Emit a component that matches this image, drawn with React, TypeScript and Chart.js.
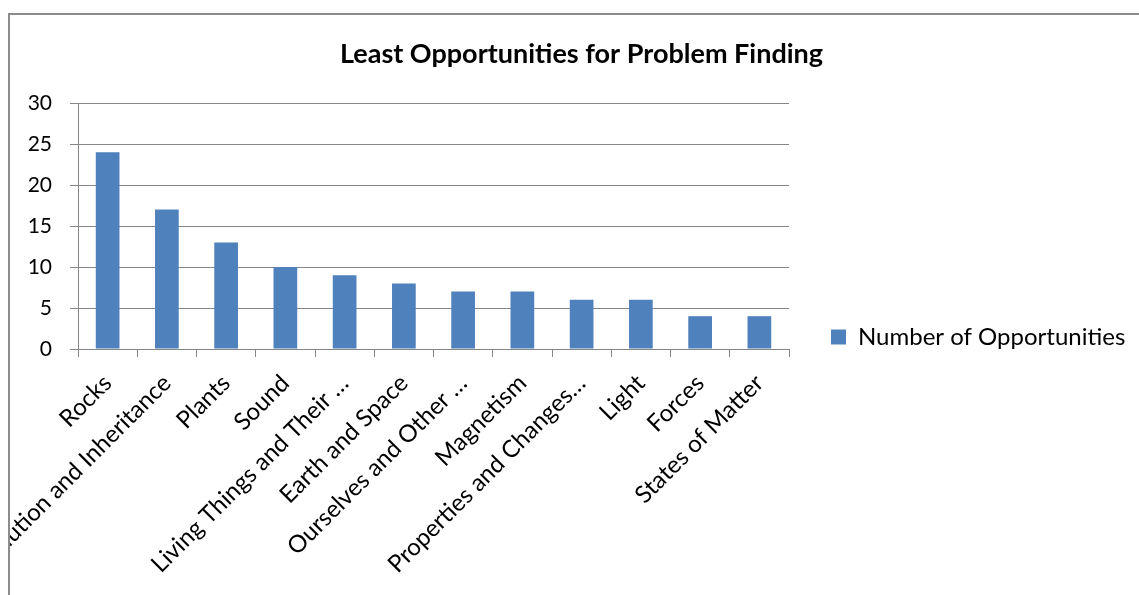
import React, { useEffect, useRef } from 'react';
import { Chart, registerables } from 'chart.js';

Chart.register(...registerables);

const chartTitle = 'Least Opportunities for Problem Finding';
const seriesLabel = 'Number of Opportunities';
const categories = [
  'Rocks',
  'Evolution and Inheritance',
  'Plants',
  'Sound',
  'Living Things and Their …',
  'Earth and Space',
  'Ourselves and Other …',
  'Magnetism',
  'Properties and Changes…',
  'Light',
  'Forces',
  'States of Matter',
];
const opportunities = [24, 17, 13, 10, 9, 8, 7, 7, 6, 6, 4, 4];
const yMin = 0;
const yMax = 30;
const yStep = 5;

const FONT = 'Lato';
const GRID = '#868686';
const BAR = '#4F81BD';

// layout (canvas pixels; canvas sits at page x=10, y=15)
const CANVAS_W = 1143;
const CANVAS_H = 580;
const Y_AXIS_W = 68;
const GAP_W = 42;
const LEGEND_LEFT = 821; // canvas x of legend box
const LEGEND_FONT = 24;
const LEGEND_BOX = 15;

export default function App() {
  const ref = useRef<HTMLCanvasElement>(null);

  useEffect(() => {
    if (!ref.current) return;
    const measure = document.createElement('canvas').getContext('2d')!;
    measure.font = `${LEGEND_FONT}px ${FONT}`;
    const tw = measure.measureText(seriesLabel).width;
    const legendW = LEGEND_BOX + LEGEND_FONT / 2 + tw + 10;
    const outerW = Math.max(0, CANVAS_W - LEGEND_LEFT - legendW);

    const chart = new Chart(ref.current, {
      type: 'bar',
      data: {
        labels: categories,
        datasets: [
          {
            label: seriesLabel,
            data: opportunities,
            backgroundColor: BAR,
            borderWidth: 0,
            barPercentage: 0.4,
            categoryPercentage: 1,
          },
        ],
      },
      options: {
        responsive: false,
        animation: false,
        devicePixelRatio: 1,
        layout: { padding: 0 },
        plugins: {
          title: {
            display: true,
            text: chartTitle,
            color: '#000',
            font: { family: FONT, size: 27, weight: 'bold', lineHeight: 1.2 },
            padding: { top: 23, bottom: 32.6 },
          },
          legend: {
            position: 'right',
            align: 'end',
            fullSize: false,
            maxWidth: 2000,
            labels: {
              boxWidth: LEGEND_BOX,
              boxHeight: LEGEND_BOX,
              padding: 0,
              color: '#000',
              font: { family: FONT, size: LEGEND_FONT },
            },
          },
          tooltip: { enabled: false },
        },
        scales: {
          x: {
            grid: { offset: true, drawOnChartArea: false, color: GRID, tickLength: 8 },
            border: { color: GRID },
            ticks: {
              autoSkip: false,
              minRotation: 45,
              maxRotation: 45,
              color: '#000',
              padding: 12,
              font: { family: FONT, size: 24 },
            },
            afterFit: (s: any) => {
              s.height = 246;
              s.paddingLeft = 0;
              s.paddingRight = 0;
            },
          },
          y: {
            min: yMin,
            max: yMax,
            ticks: {
              stepSize: yStep,
              color: '#000',
              padding: 18,
              font: { family: FONT, size: 21 },
            },
            grid: { color: GRID, tickLength: 8 },
            border: { color: GRID },
            afterFit: (s: any) => {
              s.width = Y_AXIS_W;
            },
          },
          gap: {
            type: 'linear',
            position: 'right',
            display: false,
            weight: 0,
            afterFit: (s: any) => {
              s.width = GAP_W;
            },
          },
          outer: {
            type: 'linear',
            position: 'right',
            display: false,
            weight: 2000,
            afterFit: (s: any) => {
              s.width = outerW;
            },
          },
        },
      } as any,
    });
    return () => chart.destroy();
  }, []);

  return (
    <div
      style={{
        position: 'absolute',
        left: 8,
        top: 13,
        width: 1131,
        height: 582,
        borderLeft: '2px solid #8c8c8c',
        borderTop: '2px solid #8c8c8c',
        boxSizing: 'border-box',
        overflow: 'hidden',
        background: '#fff',
      }}
    >
      <canvas
        ref={ref}
        width={CANVAS_W}
        height={CANVAS_H}
        style={{ display: 'block', width: CANVAS_W, height: CANVAS_H }}
      />
    </div>
  );
}
